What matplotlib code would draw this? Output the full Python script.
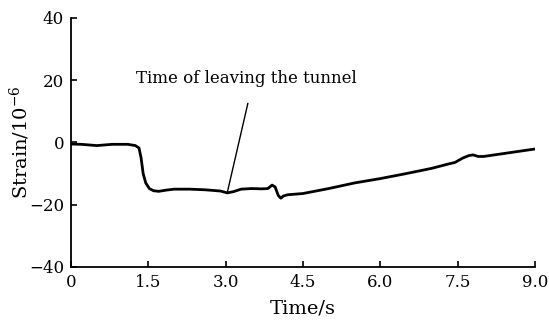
import matplotlib.pyplot as plt

# strain record
time_s = [0.0, 0.2, 0.5, 0.8, 1.1, 1.25, 1.32, 1.36, 1.40, 1.45, 1.52, 1.60, 1.70, 1.85,
          2.0, 2.3, 2.6, 2.9, 3.03, 3.15, 3.3, 3.5, 3.7, 3.82, 3.9, 3.96, 4.02, 4.07, 4.12,
          4.2, 4.5, 5.0, 5.5, 6.0, 6.5, 7.0, 7.3, 7.45, 7.6, 7.72, 7.8, 7.9, 8.0, 8.5, 9.0]
strain = [-0.5, -0.6, -1.0, -0.6, -0.6, -1.0, -1.8, -5.0, -10.0, -13.0, -14.8, -15.5, -15.7, -15.3,
          -15.0, -15.0, -15.2, -15.6, -16.2, -15.8, -15.0, -14.8, -14.9, -14.8, -13.7, -14.3, -17.0, -17.9, -17.2,
          -16.8, -16.4, -14.8, -13.0, -11.6, -10.0, -8.3, -7.0, -6.4, -5.0, -4.2, -4.0, -4.5, -4.5, -3.3, -2.1]

x_ticks = [0, 1.5, 3.0, 4.5, 6.0, 7.5, 9.0]
x_labels = ['0', '1.5', '3.0', '4.5', '6.0', '7.5', '9.0']
y_ticks = [-40, -20, 0, 20, 40]

leave_t = 3.03
leave_strain = -16.2

plt.rcParams['font.family'] = ['DejaVu Serif']
plt.rcParams['mathtext.fontset'] = 'dejavuserif'

fig = plt.figure(figsize=(5.49, 3.26), dpi=100)
ax = fig.add_axes([0.1293, 0.181, 0.8452, 0.764])

ax.plot(time_s, strain, color='black', linewidth=2.0, solid_joinstyle='round')

ax.set_xlim(0, 9.0)
ax.set_ylim(-40, 40)
ax.set_xticks(x_ticks)
ax.set_xticklabels(x_labels)
ax.set_yticks(y_ticks)
ax.tick_params(direction='in', length=4, width=1.2, labelsize=12)
ax.tick_params(axis='y', pad=5)
ax.tick_params(axis='x', pad=5)
for s in ['top', 'right']:
    ax.spines[s].set_visible(False)
for s in ['left', 'bottom']:
    ax.spines[s].set_linewidth(1.3)

ax.set_xlabel('Time/s', fontsize=14, labelpad=6)
ax.set_ylabel(r'Strain/10$^{-6}$', fontsize=14, labelpad=-2)

# pointer from the curve up to the label
ax.plot([leave_t, 3.43], [leave_strain, 12.5], color='black', linewidth=1.0)
ax.text(3.41, 20.5, 'Time of leaving the tunnel', fontsize=12, ha='center', va='center')

fig.savefig('out.png', dpi=100)
